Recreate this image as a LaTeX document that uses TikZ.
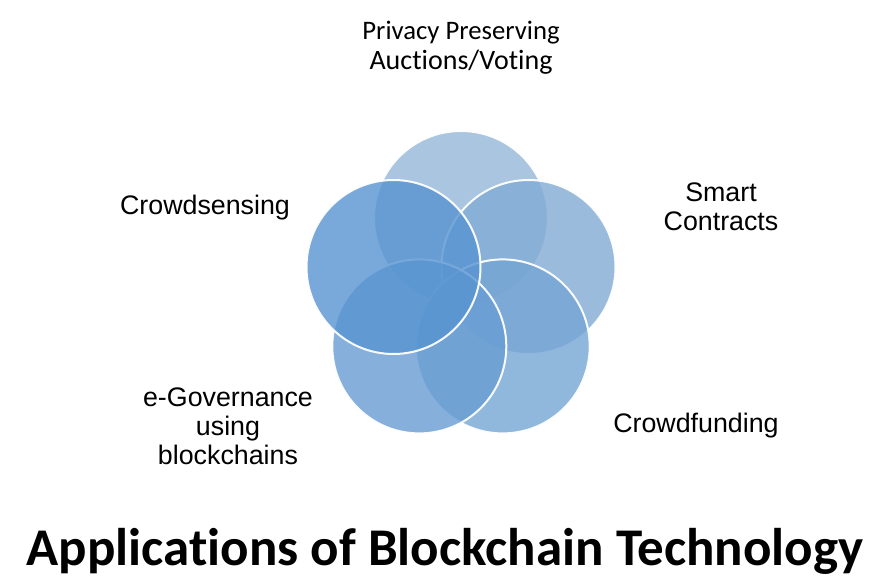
\documentclass[tikz,border=0pt]{standalone}
\usepackage{fontspec}
\setmainfont{Liberation Sans}
\newfontfamily\calib[Ligatures=NoCommon]{Carlito}
\definecolor{cTop}{RGB}{148,183,215}
\definecolor{cRight}{RGB}{130,171,212}
\definecolor{cBR}{RGB}{117,165,212}
\definecolor{cBL}{RGB}{104,157,211}
\definecolor{cLeft}{RGB}{88,148,209}
\tikzset{
  petal/.style={circle, minimum size=174pt, inner sep=0pt, draw=white, line width=2pt, fill opacity=0.8, draw opacity=0.95},
  lab/.style={font=\fontsize{26.8}{28.8}\selectfont, align=center, text=black, inner sep=0pt},
}
\begin{document}
\begin{tikzpicture}[x=1pt,y=-1pt]
\useasboundingbox[fill=white] (0,0) rectangle (879,581);
\node[petal, fill=cTop]   (ptop)   at (461,218) {};
\node[petal, fill=cRight] (pright) at (528.5,267) {};
\node[petal, fill=cBR]    (pbr)    at (502.7,346.4) {};
\node[petal, fill=cBL]    (pbl)    at (419.3,346.4) {};
\node[petal, fill=cLeft]  (pleft)  at (393.5,267) {};
% labels
\node[inner sep=0pt, font=\calib\fontsize{26.7}{29}\selectfont] (ltop1) at (461,33) {Privacy Preserving};
\node[inner sep=0pt, font=\calib\fontsize{28}{29}\selectfont] (ltop2) at (461,62) {Auct\kern0pt ions/Vot\kern0pt ing};
\node[lab] (lleft) at (205,208) {Crowdsensing};
\node[lab] (lright) at (721,207) {Smart\\Contracts};
\node[lab] (lbr) at (696,426) {Crowdfunding};
\node[lab] (lbl) at (228,426) {e-Governance\\using\\blockchains};
\node[inner sep=0pt, font=\calib\bfseries\fontsize{53}{58}\selectfont] (title) at (445,551) {Applicat\kern0pt ions of Blockchain Technology};
\end{tikzpicture}
\end{document}
